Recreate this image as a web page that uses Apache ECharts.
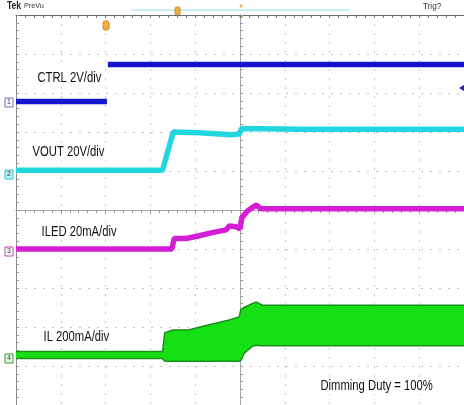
<!DOCTYPE html>
<html><head><meta charset="utf-8">
<script src="https://cdn.jsdelivr.net/npm/echarts@6/dist/echarts.min.js"></script>
<style>html,body{margin:0;padding:0;background:#fff}#c{width:464px;height:405px}</style>
</head><body><div id="c"></div>
<script>
// time axis in divisions (center = 0), vertical in divisions (center = 0)
const ctrlT = [-5, -2.97, -2.95, -2.95, 5];
const ctrlV = [2.78, 2.78, null, 3.73, 3.73];

const voutT = [-5, -1.73, -1.49, -0.91, -0.18, -0.02, 0.04, 1.3, 5];
const voutV = [1.02, 1.02, 2.0, 1.98, 1.93, 1.95, 2.09, 2.07, 2.07];

const iledT = [-5, -1.52, -1.47, -1.2, -0.91, -0.62, -0.31, -0.24, -0.09, 0.0, 0.04, 0.16, 0.36, 0.47, 5];
const iledV = [-1.0, -1.0, -0.73, -0.73, -0.66, -0.58, -0.51, -0.41, -0.43, -0.48, -0.2, -0.03, 0.13, 0.03, 0.03];

const ilT      = [-5, -1.73, -1.68, -1.5, -1.13, -0.69, -0.24, -0.02, 0.02, 0.09, 0.27, 0.36, 0.5, 5];
const ilTop    = [-3.63, -3.63, -3.15, -3.08, -3.07, -2.94, -2.82, -2.74, -2.55, -2.5, -2.4, -2.36, -2.44, -2.44];
const ilBottom = [-3.81, -3.81, -3.88, -3.88, -3.88, -3.88, -3.88, -3.88, -3.86, -3.68, -3.5, -3.47, -3.48, -3.48];

const labels = ['CTRL 2V/div', 'VOUT 20V/div', 'ILED 20mA/div', 'IL 200mA/div', 'Dimming Duty = 100%'];

const zip = (t, v) => t.map((x, i) => [x, v[i]]);

const chart = echarts.init(document.getElementById('c'), null, {renderer: 'canvas'});
const FONT = "'Liberation Sans', Arial, sans-serif";
const gridLine = {show: true, lineStyle: {color: '#c4c4c4', type: [2, 7], width: 1}};
function axisBase(extra) {
  return Object.assign({
    type: 'value', min: -5, max: 5, interval: 1,
    axisLabel: {show: false},
    splitLine: {show: false},
    axisTick: {show: true, length: 3, lineStyle: {color: '#9a9a9a'}},
    minorTick: {show: true, splitNumber: 5, length: 3, lineStyle: {color: '#9a9a9a'}},
    gridIndex: 0
  }, extra);
}
function label(text, x, y) {
  return {type: 'text', x: x, y: y, scaleX: 0.75, z: 10,
    style: {text: text, font: "15px " + FONT, fill: '#111', backgroundColor: '#fff', padding: [1, 2]}};
}

chart.setOption({
  animation: false,
  backgroundColor: '#fff',
  grid: {left: 16, top: 15, width: 450, height: 394, show: false},
  xAxis: [
    axisBase({position: 'top', axisLine: {onZero: false, lineStyle: {color: '#6a6a6a', width: 1}}, axisTick: {show: true, inside: true, length: 3, lineStyle: {color: '#777'}}, minorTick: {show: true, splitNumber: 5, length: 3, lineStyle: {color: '#777'}}, splitLine: gridLine}),
    axisBase({position: 'bottom', axisLine: {onZero: true, lineStyle: {color: '#a8a8a8'}}}),
    axisBase({position: 'bottom', axisLine: {onZero: true, lineStyle: {color: '#a8a8a8'}}})
  ],
  yAxis: [
    axisBase({position: 'left', axisLine: {show: true, onZero: false, lineStyle: {color: '#8a8a8a', width: 1}}, axisTick: {show: true, inside: true, length: 3, lineStyle: {color: '#999'}}, minorTick: {show: true, splitNumber: 5, length: 3, lineStyle: {color: '#999'}}, splitLine: gridLine}),
    axisBase({position: 'right', axisLine: {show: true, onZero: true, lineStyle: {color: '#a8a8a8'}}}),
    axisBase({position: 'right', axisLine: {show: true, onZero: true, lineStyle: {color: '#a8a8a8'}}})
  ],
  series: [
    {type: 'custom', name: 'IL', xAxisIndex: 0, yAxisIndex: 0, data: [0], z: 3,
      renderItem: function (params, api) {
        const top = ilT.map((t, i) => api.coord([t, ilTop[i]]));
        const bot = ilT.map((t, i) => api.coord([t, ilBottom[i]])).reverse();
        return {type: 'group', children: [
          {type: 'polygon', shape: {points: top.concat(bot)}, style: {fill: '#14e014'}},
          {type: 'polyline', shape: {points: top}, style: {stroke: '#1a8f1a', lineWidth: 1.5, fill: null}},
          {type: 'polyline', shape: {points: bot}, style: {stroke: '#1a8f1a', lineWidth: 1.5, fill: null}}
        ]};
      }},
    {type: 'line', name: 'CTRL', data: zip(ctrlT, ctrlV), showSymbol: false, connectNulls: false,
      lineStyle: {color: '#1515d0', width: 5.5}, z: 4},
    {type: 'line', name: 'VOUT', data: zip(voutT, voutV), showSymbol: false,
      lineStyle: {color: '#22d6df', width: 5.5}, z: 4},
    {type: 'line', name: 'ILED', data: zip(iledT, iledV), showSymbol: false,
      lineStyle: {color: '#d41ed4', width: 5.5}, z: 4}
  ],
  graphic: [
    // header
    {type: 'text', x: 7, y: 1, scaleX: 0.85, style: {text: 'Tek', font: "bold 10px " + FONT, fill: '#222'}},
    {type: 'text', x: 24, y: 2, scaleX: 0.9, style: {text: 'PreVu', font: "8px " + FONT, fill: '#333'}},
    {type: 'text', x: 423, y: 2, scaleX: 0.9, style: {text: 'Trig?', font: "9px " + FONT, fill: '#333'}},
    {type: 'line', shape: {x1: 131, y1: 10, x2: 350, y2: 10}, style: {stroke: '#8fe3e8', lineWidth: 1}},
    {type: 'rect', shape: {x: 175, y: 7, width: 5, height: 8, r: 1.5}, style: {fill: '#f0b040', stroke: '#d08a20'}},
    {type: 'circle', shape: {cx: 241, cy: 6, r: 1.5}, style: {fill: '#f0b040'}},
    {type: 'polygon', shape: {points: [[238, 15], [244, 15], [241, 19]]}, style: {fill: '#e09020'}},
    {type: 'rect', shape: {x: 103, y: 21, width: 6, height: 9, r: 2}, style: {fill: '#f0b040', stroke: '#d08a20'}},
    {type: 'polygon', shape: {points: [[464, 85], [464, 91], [459, 88]]}, style: {fill: '#2020c0'}},
    // channel markers
    {type: 'rect', shape: {x: 5, y: 98, width: 8, height: 9}, style: {fill: '#fff', stroke: '#6a6ac8', lineWidth: 1}},
    {type: 'text', x: 7, y: 99, style: {text: '1', font: "7px sans-serif", fill: '#333'}},
    {type: 'rect', shape: {x: 5, y: 170, width: 8, height: 9}, style: {fill: '#bdf3f5', stroke: '#22c6cf', lineWidth: 1}},
    {type: 'text', x: 7, y: 171, style: {text: '2', font: "7px sans-serif", fill: '#333'}},
    {type: 'rect', shape: {x: 5, y: 247, width: 8, height: 9}, style: {fill: '#fff', stroke: '#c040c0', lineWidth: 1}},
    {type: 'text', x: 7, y: 248, style: {text: '3', font: "7px sans-serif", fill: '#333'}},
    {type: 'rect', shape: {x: 5, y: 354, width: 8, height: 9}, style: {fill: '#e8ffe8', stroke: '#2a9a2a', lineWidth: 1}},
    {type: 'text', x: 7, y: 355, style: {text: '4', font: "7px sans-serif", fill: '#333'}},
    // trace labels
    label(labels[0], 36, 69),
    label(labels[1], 31, 143),
    label(labels[2], 40, 223),
    label(labels[3], 42, 328),
    label(labels[4], 319, 377)
  ]
});
</script>
</body></html>
